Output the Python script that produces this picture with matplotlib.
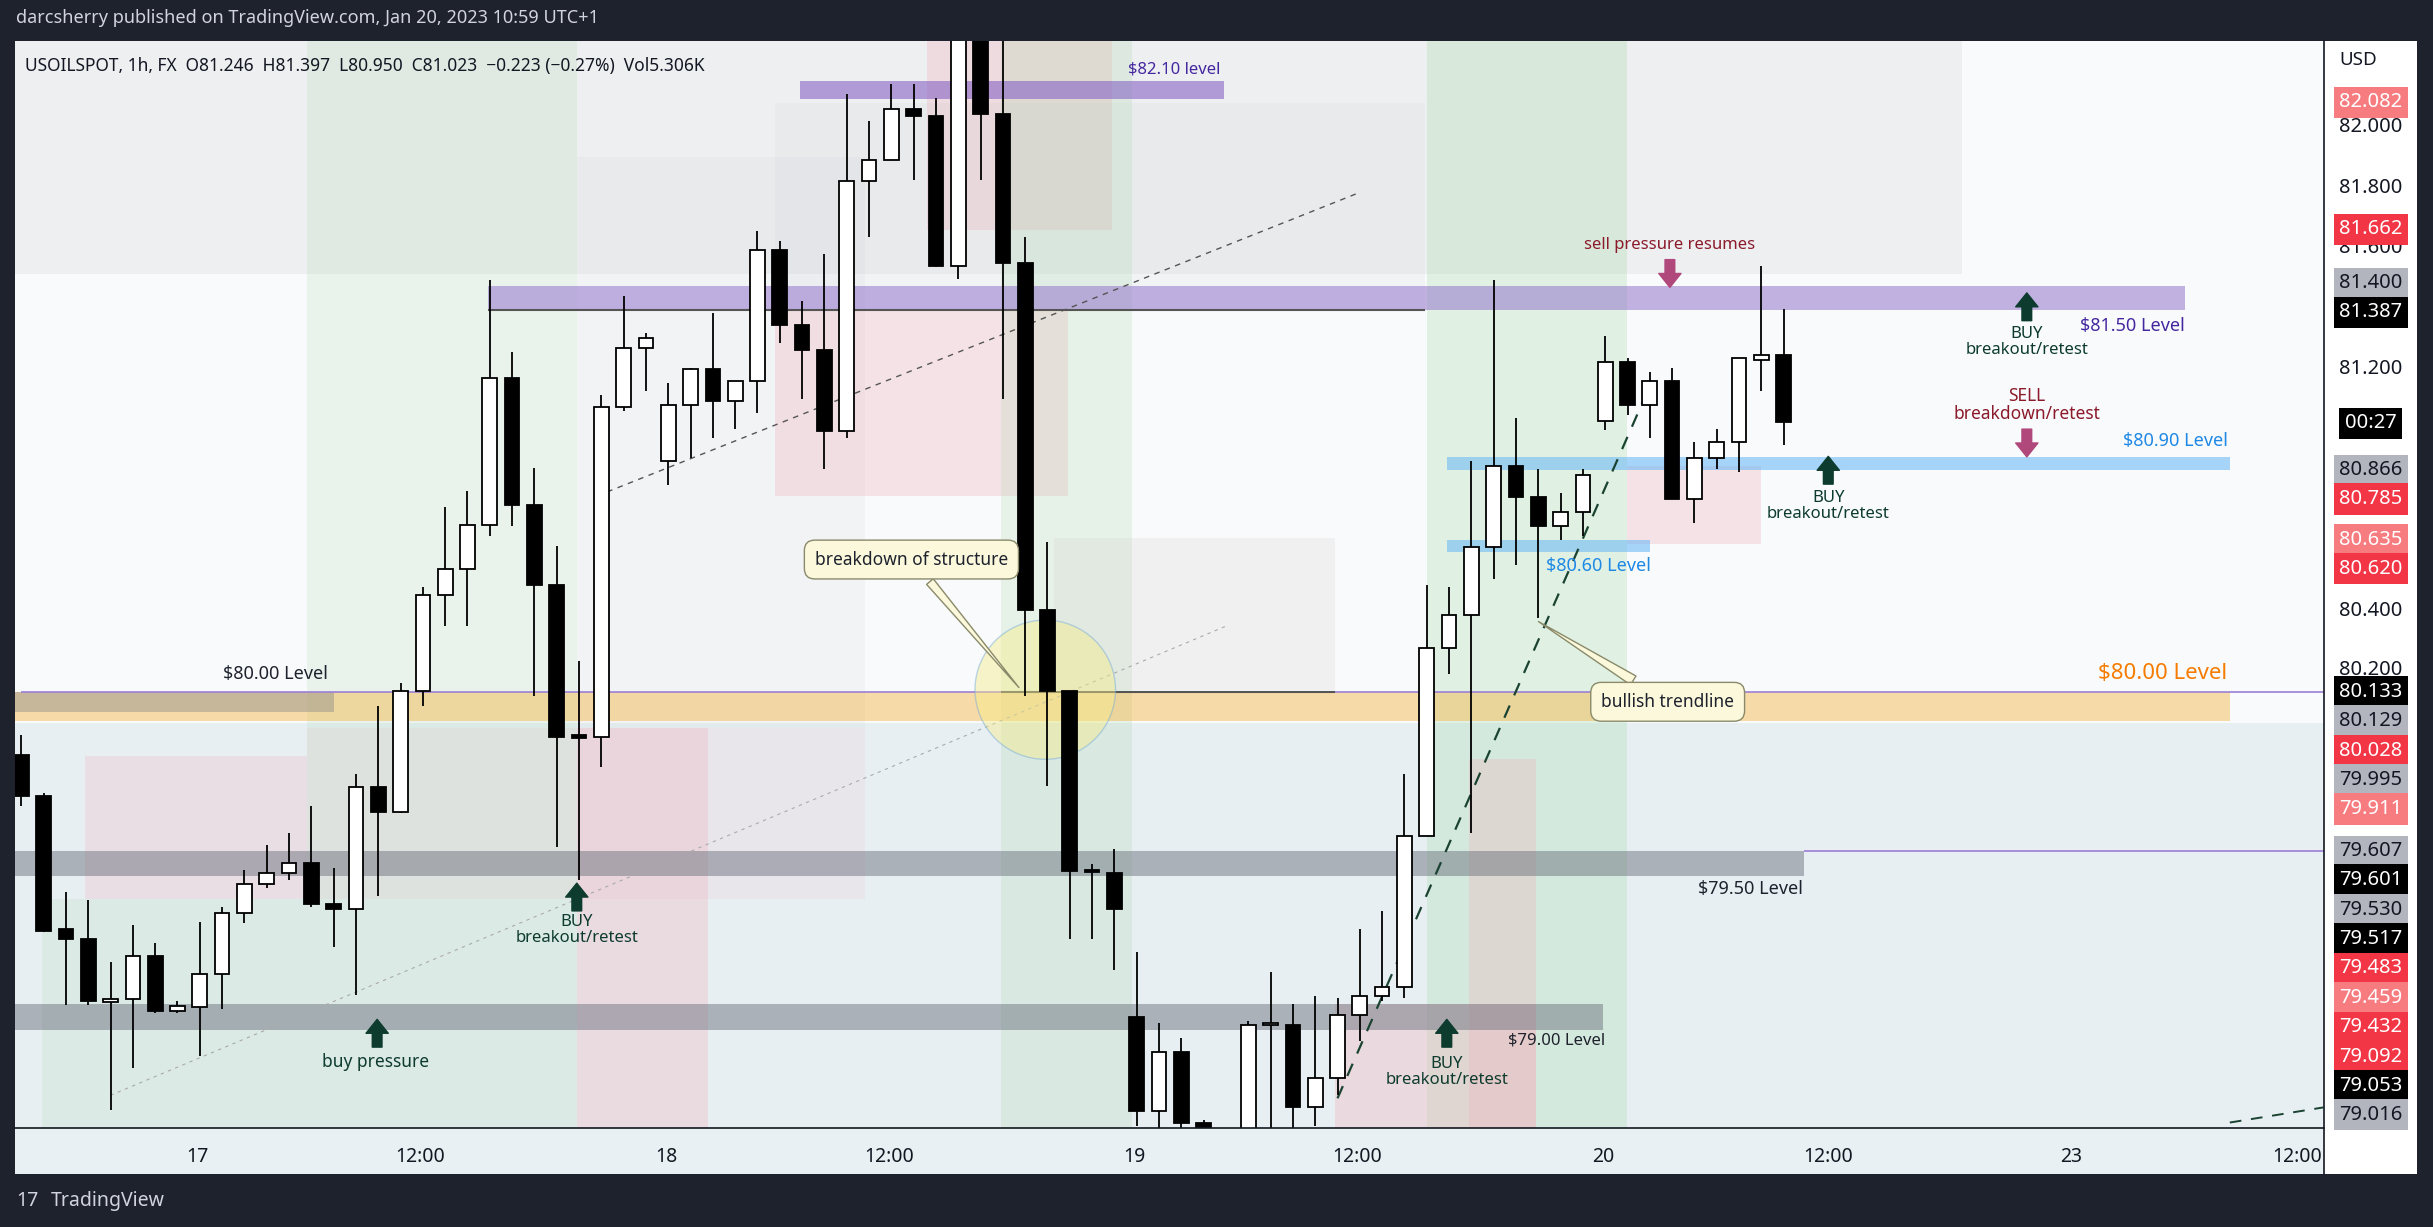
import matplotlib
matplotlib.use("Agg")
import matplotlib.pyplot as plt
from matplotlib.patches import Rectangle, Ellipse
import matplotlib.transforms as mtransforms

plt.rcParams['font.family'] = ['Noto Sans', 'DejaVu Sans']

# ---------------- data ----------------
opens = [79.925,79.788,79.348,79.317,79.108,79.118,79.260,79.079,79.092,79.201,
         79.402,79.498,79.534,79.568,79.433,79.415,79.819,79.736,80.137,80.454,
         80.540,80.684,81.170,80.749,80.485,79.989,79.984,81.075,81.269,80.894,
         81.082,81.199,81.093,81.160,81.592,81.344,81.261,80.995,81.819,81.891,
         82.057,82.036,81.540,82.350,82.041,81.550,80.403,80.137,79.545,79.534,
         79.059,78.749,78.942,78.710,78.620,78.600,79.033,79.033,78.761,78.857,
         79.064,79.128,79.157,79.658,80.279,80.387,80.610,80.878,80.775,80.682,
         80.726,81.028,81.222,81.080,81.160,80.770,80.907,80.958,81.230,81.245]
highs = [79.989,79.800,79.472,79.446,79.240,79.364,79.304,79.110,79.374,79.421,
         79.544,79.627,79.666,79.757,79.550,79.860,80.085,80.162,80.480,80.744,
         80.796,81.493,81.256,80.873,80.615,80.235,81.113,81.442,81.320,81.152,
         81.204,81.385,81.160,81.654,81.623,81.424,81.579,82.109,82.018,82.140,
         82.140,82.096,82.400,82.450,82.300,81.636,80.628,80.137,79.563,79.614,
         79.273,79.038,78.990,78.720,78.660,79.046,79.206,79.103,79.128,79.123,
         79.348,79.408,79.860,80.485,80.480,80.894,81.493,81.036,80.868,80.790,
         80.868,81.307,81.235,81.191,81.204,80.958,81.002,81.235,81.540,81.397]
lows = [79.757,79.340,79.098,79.098,78.750,78.891,79.071,79.071,78.930,79.085,
        79.369,79.485,79.511,79.421,79.291,79.131,79.459,79.731,80.087,80.351,
        80.351,80.648,80.682,80.118,79.620,79.511,79.886,81.062,81.126,80.816,
        80.907,80.971,81.002,81.054,81.287,81.101,80.868,80.971,81.636,81.889,
        81.824,81.535,81.496,81.824,81.101,80.118,79.821,79.317,79.317,79.214,
        78.697,78.650,78.650,78.550,78.450,78.500,78.650,78.650,78.697,78.800,
        78.981,79.110,79.123,79.658,80.191,79.666,80.506,80.553,80.377,80.635,
        80.648,80.997,81.049,80.971,80.770,80.692,80.868,80.860,81.126,80.950]
closes = [79.788,79.343,79.317,79.110,79.118,79.260,79.079,79.095,79.201,79.402,
          79.498,79.534,79.568,79.433,79.415,79.819,79.736,80.137,80.454,80.540,
          80.684,81.170,80.749,80.485,79.984,79.981,81.075,81.269,81.302,81.082,
          81.199,81.093,81.160,81.592,81.344,81.261,80.995,81.819,81.891,82.057,
          82.034,81.540,82.350,82.041,81.550,80.403,80.137,79.542,79.537,79.415,
          78.749,78.942,78.710,78.620,78.500,79.033,79.035,78.761,78.857,79.064,
          79.128,79.157,79.658,80.279,80.387,80.610,80.878,80.775,80.682,80.726,
          80.850,81.222,81.080,81.160,80.770,80.907,80.958,81.235,81.245,81.023]
xtick_pos = [7.9, 17.9, 28.9, 38.9, 49.9, 59.9, 70.9, 81.0, 91.9, 102.0]
xtick_labels = ['17', '12:00', '18', '12:00', '19', '12:00', '20', '12:00', '23', '12:00']

# price axis labels: (text, position price, style)
axis_labels = [
    ('82.082', 82.080, 'salmon'), ('82.000', 82.000, 'plain'), ('81.800', 81.798, 'plain'),
    ('81.662', 81.661, 'red'), ('81.600', 81.599, 'plain'), ('81.400', 81.483, 'grey'),
    ('81.387', 81.387, 'black'),
    ('81.200', 81.201, 'plain'), ('00:27', 81.020, 'black'), ('80.866', 80.865, 'grey'),
    ('80.785', 80.770, 'red'), ('80.635', 80.635, 'salmon'), ('80.620', 80.540, 'red'),
    ('80.400', 80.400, 'plain'), ('80.200', 80.204, 'plain'), ('80.133', 80.134, 'black'),
    ('80.129', 80.038, 'grey'), ('80.028', 79.937, 'red'), ('79.995', 79.842, 'grey'),
    ('79.911', 79.746, 'salmon'), ('79.607', 79.606, 'grey'), ('79.601', 79.511, 'black'),
    ('79.530', 79.413, 'grey'), ('79.517', 79.317, 'black'), ('79.483', 79.219, 'red'),
    ('79.459', 79.121, 'salmon'), ('79.432', 79.025, 'red'), ('79.092', 78.927, 'red'),
    ('79.053', 78.831, 'black'), ('79.016', 78.736, 'grey'),
]

XMIN, XMAX = -0.27, 103.2
YMIN, YMAX = 78.692, 82.284

fig = plt.figure(figsize=(24.33, 12.27), dpi=100)
fig.patch.set_facecolor('#1e222d')
ax = fig.add_axes([0.00629, 0.0807, 0.955 - 0.00629, 0.9668 - 0.0807])
ax.set_facecolor('#f8fafb')
ax.set_xlim(XMIN, XMAX)
ax.set_ylim(YMIN, YMAX)

# ------------- shaded zones -------------
zones = [
    (XMIN, 87.0, 81.514, YMAX, '#c4c6cc', 0.20),
    (XMIN, XMAX, YMIN, 80.03, '#c8dce6', 0.35),
    (0.92, 12.82, YMIN, 79.45, '#a8d8a8', 0.18),
    (2.87, 12.82, 79.45, 79.92, '#f0b8c0', 0.30),
    (12.82, 24.9, YMIN, YMAX, '#a8d8a8', 0.18),
    (24.9, 30.8, YMIN, 80.015, '#f0b8c0', 0.35),
    (24.9, 37.8, 80.015, 81.90, '#c4c6cc', 0.12),
    (12.82, 37.8, 79.45, 80.015, '#f0b8c0', 0.15),
    (33.8, 46.9, 80.78, 81.39, '#f0b8c0', 0.35),
    (40.6, 48.9, 81.66, YMAX, '#f0b8c0', 0.35),
    (33.8, 62.9, 81.39, 82.077, '#c4c6cc', 0.12),
    (43.9, 49.8, YMIN, YMAX, '#a8d8a8', 0.22),
    (46.3, 58.9, 80.14, 80.64, '#d0c8c8', 0.20),
    (63.0, 71.96, YMIN, YMAX, '#9cd89c', 0.25),
    (64.9, 67.9, YMIN, 79.91, '#f0b8c0', 0.35),
    (58.9, 67.9, YMIN, 79.10, '#f0b8c0', 0.40),
    (71.96, 78.0, 80.62, 80.88, '#f0b8c0', 0.35),
]
for x0, x1, y0, y1, c, a in zones:
    ax.add_patch(Rectangle((x0, y0), x1 - x0, y1 - y0, color=c, alpha=a, lw=0, zorder=0))

# level bands
bands = [
    (20.9, 97.0, 81.393, 81.475, '#9575cd', 0.55),
    (34.9, 53.9, 82.090, 82.150, '#7e57c2', 0.55),
    (63.9, 99.0, 80.865, 80.909, '#64b5f6', 0.55),
    (63.9, 73.0, 80.594, 80.635, '#64b5f6', 0.55),
    (XMIN, 99.0, 80.038, 80.131, '#f5b342', 0.45),
    (XMIN, 14.0, 80.067, 80.131, '#8d8d8d', 0.45),
    (XMIN, 79.9, 79.524, 79.607, '#6f7480', 0.50),
    (XMIN, 70.9, 79.017, 79.100, '#6f7480', 0.50),
]
for x0, x1, y0, y1, c, a in bands:
    ax.add_patch(Rectangle((x0, y0), x1 - x0, y1 - y0, color=c, alpha=a, lw=0, zorder=1))
ax.hlines(81.393, 20.9, 62.9, color='#555', lw=1.5, zorder=1)
ax.hlines(80.133, 0, XMAX, color='#9c7fd6', lw=1.2, zorder=1)
ax.hlines(80.131, 43.9, 58.9, color='#555', lw=1.5, zorder=1)
ax.hlines(79.607, 79.9, XMAX, color='#9c7fd6', lw=1.2, zorder=1)

# trendlines
ax.plot([59.0, 72.8], [78.79, 81.11], ls=(0, (6, 5)), color='#1b4332', lw=1.6, zorder=2)
ax.plot([25.8, 59.9], [80.78, 81.78], ls=(0, (4, 4)), color='#555', lw=1.0, zorder=2)
ax.plot([4.0, 54.0], [78.80, 80.35], ls=(0, (3, 4)), color='#aaa', lw=0.8, zorder=2)
ax.plot([99.0, 103.2], [78.71, 78.76], ls=(0, (6, 5)), color='#1b4332', lw=1.4, zorder=2)

ax.add_patch(Ellipse((45.9, 80.14), 6.3, 0.46, facecolor='#f7ec8a', alpha=0.45,
                     edgecolor='#6fa8dc', lw=1, zorder=2))

# ------------- candles -------------
for i in range(len(opens)):
    o, h, l, c = opens[i], highs[i], lows[i], closes[i]
    col = 'white' if c >= o else 'black'
    ax.vlines(i, l, h, color='black', lw=1.3, zorder=3)
    bot = min(o, c)
    hgt = max(abs(c - o), 0.006)
    ax.add_patch(Rectangle((i - 0.33, bot), 0.66, hgt, facecolor=col, edgecolor='black',
                           lw=1.3, zorder=4))

# ------------- annotations -------------
txt = dict(zorder=6)
ax.text(11.4, 80.175, '$80.00 Level', fontsize=13, color='#1e222d', ha='center', **txt)
ax.text(98.9, 80.175, '$80.00 Level', fontsize=16, color='#f57c00', ha='right',
        fontweight='bold', **txt)
ax.text(51.7, 82.19, '$82.10 level', fontsize=12, color='#4527a0', ha='center', va='center', **txt)
ax.text(97.0, 81.34, '$81.50 Level', fontsize=13, color='#4527a0', ha='right', va='center', **txt)
ax.text(98.9, 80.96, '$80.90 Level', fontsize=13, color='#1e88e5', ha='right', va='center', **txt)
ax.text(70.7, 80.55, '$80.60 Level', fontsize=13, color='#1e88e5', ha='center', va='center', **txt)
ax.text(77.5, 79.48, '$79.50 Level', fontsize=13, color='#1e222d', ha='center', va='center', **txt)
ax.text(68.8, 78.98, '$79.00 Level', fontsize=12, color='#1e222d', ha='center', va='center', **txt)
ax.text(73.9, 81.61, 'sell pressure resumes', fontsize=12, color='#8b1a2b', ha='center', va='center', **txt)
for (x, y) in [(24.9, 79.40), (63.9, 78.93), (81.0, 80.80), (89.9, 81.34)]:
    ax.text(x, y, 'BUY\nbreakout/retest', fontsize=12, color='#0d3b2e', ha='center', va='top',
            linespacing=1.0, **txt)
ax.text(89.9, 81.14, 'SELL\nbreakdown/retest', fontsize=12.5, color='#8b1a2b', ha='center',
        va='top', linespacing=1.0, **txt)
ax.text(15.9, 78.91, 'buy pressure', fontsize=12.5, color='#0d3b2e', ha='center', va='center', **txt)

up = dict(arrowstyle='simple,head_width=1.6,head_length=1.0,tail_width=0.7', color='#0d3b2e')
dn = dict(arrowstyle='simple,head_width=1.6,head_length=1.0,tail_width=0.7', color='#b0487c')
for (x, y0, y1) in [(24.9, 79.40, 79.51), (15.95, 78.95, 79.06), (63.9, 78.95, 79.06),
                    (81.0, 80.81, 80.92), (89.9, 81.35, 81.46)]:
    ax.annotate('', xy=(x, y1), xytext=(x, y0), arrowprops=up, zorder=6)
for (x, y0, y1) in [(73.9, 81.57, 81.46), (89.9, 81.01, 80.90)]:
    ax.annotate('', xy=(x, y1), xytext=(x, y0), arrowprops=dn, zorder=6)

call = dict(boxstyle='round,pad=0.6', fc='#fbf8dc', ec='#8a8a6a', lw=1)
ax.annotate('breakdown of structure', xy=(44.8, 80.14), xytext=(39.9, 80.57), fontsize=12.5,
            ha='center', va='center', color='#1e222d', bbox=call, zorder=7,
            arrowprops=dict(arrowstyle='wedge,tail_width=0.5', fc='#fbf8dc', ec='#8a8a6a'))
ax.annotate('bullish trendline', xy=(67.9, 80.37), xytext=(73.8, 80.10), fontsize=12.5,
            ha='center', va='center', color='#1e222d', bbox=call, zorder=7,
            arrowprops=dict(arrowstyle='wedge,tail_width=0.6', fc='#fbf8dc', ec='#8a8a6a'))

ax.text(0.004, 0.985, 'USOILSPOT, 1h, FX  O81.246  H81.397  L80.950  C81.023  \u22120.223 (\u22120.27%)  Vol5.306K',
        transform=ax.transAxes, fontsize=12.5, color='#131722', va='top', ha='left', zorder=8)

# ------------- axes styling -------------
ax.set_xticks(xtick_pos)
ax.set_xticklabels(xtick_labels, fontsize=14, color='#131722')
ax.set_yticks([])
ax.tick_params(axis='x', length=0, pad=14)
for s in ax.spines.values():
    s.set_visible(False)

fig.patches.append(Rectangle((0.00629, 0.043), 0.9934 - 0.00629, 0.0377, transform=fig.transFigure,
                             facecolor='#e9f0f3', edgecolor='none', zorder=-1))
fig.patches.append(Rectangle((0.955, 0.043), 0.9934 - 0.955, 0.9668 - 0.043, transform=fig.transFigure,
                             facecolor='#ffffff', edgecolor='none', zorder=-1))
fig.add_artist(plt.Line2D([0.955, 0.955], [0.043, 0.9668], color='#131722', lw=1.2))
fig.add_artist(plt.Line2D([0.00629, 0.955], [0.0807, 0.0807], color='#131722', lw=1.2))

trans = mtransforms.blended_transform_factory(ax.transAxes, ax.transData)
ax.text(1.007, 82.22, 'USD', transform=trans, fontsize=13.5, color='#131722', va='center',
        ha='left', clip_on=False)
styles = {'salmon': ('#f77c80', 'white'), 'red': ('#f23645', 'white'),
          'grey': ('#b2b5be', '#131722'), 'black': ('#000000', 'white'),
          'plain': (None, '#131722')}
for t, p, st in axis_labels:
    bg, fg = styles[st]
    kw = dict(transform=trans, fontsize=14.5, color=fg, va='center', ha='center', clip_on=False,
              zorder=9 if bg else 8)
    if bg:
        kw['bbox'] = dict(boxstyle='square,pad=0.28', fc=bg, ec='none')
    ax.text(1.0205, p, t, **kw)

fig.text(0.0066, 0.985, 'darcsherry published on TradingView.com, Jan 20, 2023 10:59 UTC+1',
         fontsize=13, color='#d1d4dc', va='center', ha='left')
fig.text(0.0066, 0.021, '17', fontsize=14, color='#d1d4dc', fontweight='bold', va='center', ha='left')
fig.text(0.021, 0.021, 'TradingView', fontsize=14, color='#d1d4dc', va='center', ha='left')

fig.savefig('out.png', dpi=100, facecolor=fig.get_facecolor())
